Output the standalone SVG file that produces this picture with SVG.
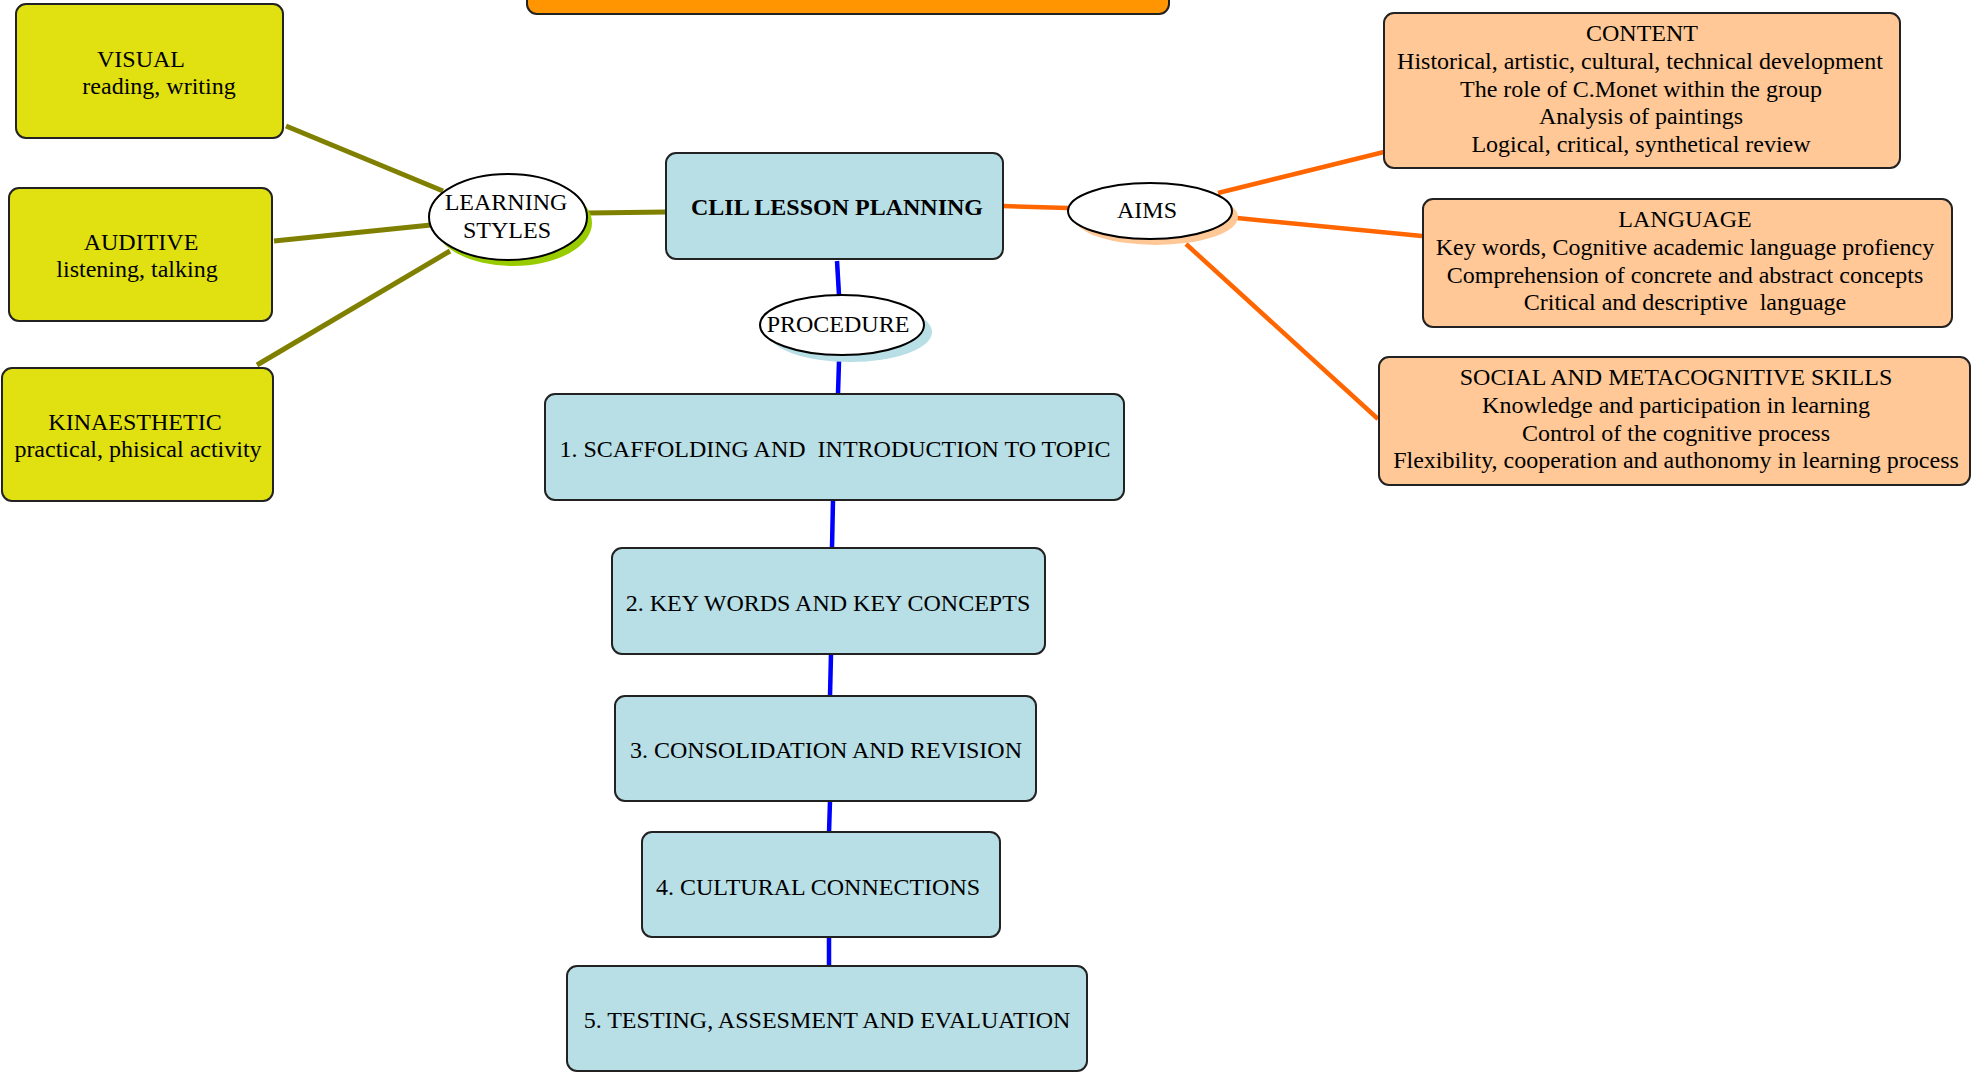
<svg xmlns="http://www.w3.org/2000/svg" width="1973" height="1074" viewBox="0 0 1973 1074">
<style>
text{font-family:"Liberation Serif","Times New Roman",serif;font-size:24px;fill:#000;text-anchor:middle}
.yel{fill:#E1E112;stroke:#222;stroke-width:2}
.blu{fill:#B8DEE6;stroke:#222;stroke-width:2}
.pch{fill:#FFC896;stroke:#222;stroke-width:2}
.ell{fill:#fff;stroke:#000;stroke-width:2}
.ol{stroke:#808000;stroke-width:5;fill:none}
.or{stroke:#FF6600;stroke-width:4.5;fill:none}
.bl{stroke:#0000FF;stroke-width:4.5;fill:none}
</style>
<rect width="1973" height="1074" fill="#fff"/>
<g id="connectors">
<line class="ol" x1="286" y1="126" x2="443" y2="191"/>
<line class="ol" x1="274" y1="241" x2="431" y2="225"/>
<line class="ol" x1="257" y1="365" x2="450" y2="251"/>
<line class="ol" x1="588" y1="213" x2="667" y2="212"/>
<line class="or" x1="1003" y1="206" x2="1068" y2="208"/>
<line class="or" x1="1218" y1="193" x2="1384" y2="152"/>
<line class="or" x1="1237" y1="218" x2="1422" y2="236"/>
<line class="or" x1="1186" y1="244" x2="1378" y2="419"/>
<line class="bl" x1="837" y1="261" x2="839" y2="295"/>
<line class="bl" x1="839" y1="361" x2="838" y2="394"/>
<line class="bl" x1="833" y1="500" x2="832" y2="548"/>
<line class="bl" x1="831" y1="654" x2="830" y2="696"/>
<line class="bl" x1="830" y1="801" x2="829" y2="833"/>
<line class="bl" x1="829" y1="937" x2="829" y2="966"/>
</g>
<g id="top-box"><rect x="527" y="-20" width="642" height="34" rx="10" fill="#FF9500" stroke="#222" stroke-width="2"/></g>
<g id="visual"><rect class="yel" x="16" y="4" width="267" height="134" rx="10"/>
<text x="141" y="67">VISUAL</text><text x="159" y="94">reading, writing</text></g>
<g id="auditive"><rect class="yel" x="9" y="188" width="263" height="133" rx="10"/>
<text x="141" y="250">AUDITIVE</text><text x="137" y="277">listening, talking</text></g>
<g id="kinaesthetic"><rect class="yel" x="2" y="368" width="271" height="133" rx="10"/>
<text x="135" y="430">KINAESTHETIC</text><text x="138" y="457">practical, phisical activity</text></g>
<g id="learning-styles"><ellipse cx="513" cy="223" rx="79" ry="43" fill="#99CC00"/><ellipse class="ell" cx="508" cy="217" rx="79" ry="43"/>
<text x="506" y="210">LEARNING</text><text x="507" y="238">STYLES</text></g>
<g id="clil"><rect class="blu" x="666" y="153" width="337" height="106" rx="10"/>
<text x="837" y="215" font-weight="bold">CLIL LESSON PLANNING</text></g>
<g id="aims"><ellipse cx="1156" cy="217" rx="82" ry="28" fill="#FFC896"/><ellipse class="ell" cx="1150" cy="211" rx="82" ry="28"/>
<text x="1147" y="218">AIMS</text></g>
<g id="procedure"><ellipse cx="850" cy="332" rx="82" ry="30" fill="#B8DEE6"/><ellipse class="ell" cx="842" cy="325" rx="82" ry="30"/>
<text x="838" y="332">PROCEDURE</text></g>
<g id="step1"><rect class="blu" x="545" y="394" width="579" height="106" rx="10"/>
<text x="835" y="457" xml:space="preserve">1. SCAFFOLDING AND  INTRODUCTION TO TOPIC</text></g>
<g id="step2"><rect class="blu" x="612" y="548" width="433" height="106" rx="10"/>
<text x="828" y="611">2. KEY WORDS AND KEY CONCEPTS</text></g>
<g id="step3"><rect class="blu" x="615" y="696" width="421" height="105" rx="10"/>
<text x="826" y="758">3. CONSOLIDATION AND REVISION</text></g>
<g id="step4"><rect class="blu" x="642" y="832" width="358" height="105" rx="10"/>
<text x="818" y="895">4. CULTURAL CONNECTIONS</text></g>
<g id="step5"><rect class="blu" x="567" y="966" width="520" height="105" rx="10"/>
<text x="827" y="1028">5. TESTING, ASSESMENT AND EVALUATION</text></g>
<g id="content"><rect class="pch" x="1384" y="13" width="516" height="155" rx="10"/>
<text x="1642" y="41">CONTENT</text>
<text x="1640" y="69">Historical, artistic, cultural, technical development</text>
<text x="1641" y="97">The role of C.Monet within the group</text>
<text x="1641" y="124">Analysis of paintings</text>
<text x="1641" y="152">Logical, critical, synthetical review</text></g>
<g id="language"><rect class="pch" x="1423" y="199" width="529" height="128" rx="10"/>
<text x="1685" y="227">LANGUAGE</text>
<text x="1685" y="255">Key words, Cognitive academic language profiency</text>
<text x="1685" y="283">Comprehension of concrete and abstract concepts</text>
<text x="1685" y="310" xml:space="preserve">Critical and descriptive  language</text></g>
<g id="social"><rect class="pch" x="1379" y="357" width="591" height="128" rx="10"/>
<text x="1676" y="385">SOCIAL AND METACOGNITIVE SKILLS</text>
<text x="1676" y="413">Knowledge and participation in learning</text>
<text x="1676" y="441">Control of the cognitive process</text>
<text x="1676" y="468">Flexibility, cooperation and authonomy in learning process</text></g>
</svg>
